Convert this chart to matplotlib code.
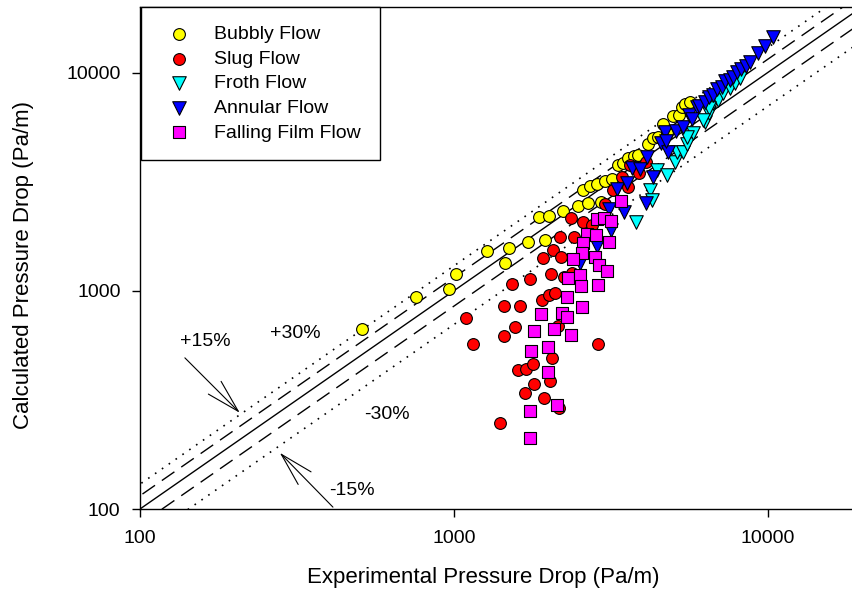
import matplotlib.pyplot as plt
from matplotlib.ticker import NullLocator
import numpy as np

plt.rcParams["font.family"] = ["Liberation Sans", "DejaVu Sans"]

# experimental vs calculated pressure drop (Pa/m)
bubbly_x = [510, 760, 965, 1015, 1275, 1455, 1500, 1720, 1950, 1865, 2010, 2225,
            2485, 2670, 2940, 2575, 2710, 2855, 3030, 3185, 3330, 3450, 3585, 3745,
            3855, 4150, 4305, 4465, 4635, 4765, 4980, 5210, 5325, 5445, 5650]
bubbly_y = [670, 935, 1020, 1195, 1525, 1340, 1575, 1680, 1715, 2185, 2210, 2330,
            2455, 2535, 2560, 2905, 3035, 3100, 3195, 3265, 3785, 3865, 4075, 4160,
            4205, 4720, 5035, 5085, 5835, 5310, 6355, 6415, 6980, 7210, 7360]

slug_x = [1090, 1150, 1400, 1445, 1445, 1565, 1530, 1625, 1745, 1920, 2065, 2190,
          2035, 1905, 2010, 2095, 2175, 2360, 2410, 2575, 2750, 2240, 2375, 1600,
          1695, 1785, 2050, 1800, 2020, 1685, 1935, 2160, 2145, 2875, 3210, 3025,
          3585, 3635, 3885, 4085, 3425]
slug_y = [750, 570, 248, 855, 620, 685, 1075, 855, 1135, 1415, 1540, 1430,
          1195, 910, 960, 980, 1770, 2165, 1770, 2075, 2010, 1160, 1210, 435,
          440, 460, 490, 375, 385, 340, 323, 290, 690, 570, 2905, 2505,
          3000, 3785, 3475, 3905, 3325]

froth_x = [3800, 4210, 4270, 4430, 4765, 5055, 5130, 5360, 5520, 5770, 5520, 6300,
           6530, 6685, 6935, 7190, 7570, 7850, 8140, 6530, 6210]
froth_y = [2075, 2905, 2615, 3590, 3405, 3905, 4345, 4345, 4720, 5310, 5085, 5955,
           6560, 7285, 7520, 8095, 8535, 9000, 9485, 6905, 6085]

annular_x = [3305, 3475, 3115, 3160, 2855, 2520, 4085, 3555, 3690, 3910, 4120, 4305,
             4560, 4810, 4700, 5095, 5360, 5600, 5945, 6065, 6300, 6530, 6685, 6885,
             7140, 7295, 7570, 7740, 8020, 8260, 8510, 8765, 9295, 9785, 10375, 5730,
             4755]
annular_y = [2935, 2305, 2375, 1905, 1610, 1345, 2535, 3130, 3665, 3630, 4120, 3335,
             4775, 4345, 5360, 5420, 5650, 6415, 6980, 7055, 7360, 7760, 7925, 8445,
             8625, 9185, 9290, 9590, 10115, 10430, 10770, 11230, 12360, 13300, 14630, 6150,
             4840]

film_x = [3405, 2855, 3005, 3160, 2655, 2835, 3115, 2575, 2555, 2395, 2810, 2895,
          3070, 2305, 2520, 2535, 2875, 2290, 1895, 2205, 2290, 2555, 1800, 2080,
          2360, 1760, 1990, 1990, 2130, 1745, 1745]
film_y = [2590, 2140, 2160, 2095, 1825, 1805, 1680, 1660, 1495, 1400, 1430, 1315,
          1235, 1145, 1185, 1055, 1065, 940, 785, 795, 760, 845, 655, 670,
          630, 530, 550, 425, 300, 280, 212]

ticks = [100, 1000, 10000]
tick_labels = ["100", "1000", "10000"]
ref_x = np.array([50, 40000])

fig = plt.figure(figsize=(8.53, 5.99), dpi=100)
ax = fig.add_axes([140 / 853, 90 / 599, 722 / 853, 502 / 599])
ax.set_xscale("log")
ax.set_yscale("log")
ax.set_xlim(100, 20000)
ax.set_ylim(100, 20000)

# parity line and error bands
ax.plot(ref_x, ref_x, color="black", lw=1.0, zorder=1)
for f in (1.15, 0.85):
    ax.plot(ref_x, ref_x * f, color="black", lw=1.0, dashes=(11, 6), zorder=1)
for f in (1.3, 0.7):
    ax.plot(ref_x, ref_x * f, color="black", lw=1.2, dashes=(1, 4), zorder=1)

kw = dict(edgecolors="black", linewidths=0.8, zorder=3)
ax.scatter(bubbly_x, bubbly_y, s=72, marker="o", c="#ffff00", label="Bubbly Flow", **kw)
ax.scatter(slug_x, slug_y, s=72, marker="o", c="#ff0000", label="Slug Flow", **kw)
ax.scatter(froth_x, froth_y, s=95, marker="v", c="#00ffff", label="Froth Flow", **kw)
ax.scatter(annular_x, annular_y, s=95, marker="v", c="#0000ff", label="Annular Flow", **kw)
ax.scatter(film_x, film_y, s=72, marker="s", c="#ff00ff", label="Falling Film Flow", **kw)

arrow = dict(arrowstyle="->, head_length=2.0, head_width=0.54", color="black",
             lw=0.8, shrinkA=0, shrinkB=0, mutation_scale=12)
ax.annotate("", xy=(208, 276), xytext=(139, 493), arrowprops=arrow)
ax.annotate("", xy=(279, 181), xytext=(412, 102), arrowprops=arrow)
ax.text(161, 583, "+15%", fontsize=14, ha="center", va="center")
ax.text(312, 640, "+30%", fontsize=14, ha="center", va="center")
ax.text(611, 270, "-30%", fontsize=14, ha="center", va="center")
ax.text(472, 122, "-15%", fontsize=14, ha="center", va="center")

ax.set_xticks(ticks)
ax.set_xticklabels(tick_labels)
ax.set_yticks(ticks)
ax.set_yticklabels(tick_labels)
ax.xaxis.set_minor_locator(NullLocator())
ax.yaxis.set_minor_locator(NullLocator())
ax.tick_params(direction="out", length=6, width=1, labelsize=14)
ax.tick_params(axis="x", pad=9)
ax.tick_params(axis="y", pad=8)
for sp in ax.spines.values():
    sp.set_linewidth(1.0)

ax.set_xlabel("Experimental Pressure Drop (Pa/m)", fontsize=16)
ax.set_ylabel("Calculated Pressure Drop (Pa/m)", fontsize=16)
ax.xaxis.set_label_coords(0.475, -0.1155)
ax.yaxis.set_label_coords(-0.1468, 0.486)

leg = ax.legend(loc="upper left", bbox_to_anchor=(0.002, 1.0), borderaxespad=0,
                fontsize=14, fancybox=False, framealpha=1, edgecolor="black",
                borderpad=0.95, handlelength=2.0, handletextpad=0.8,
                labelspacing=0.36, scatterpoints=1)
leg.get_frame().set_linewidth(1.0)

fig.savefig("out.png", dpi=100)
